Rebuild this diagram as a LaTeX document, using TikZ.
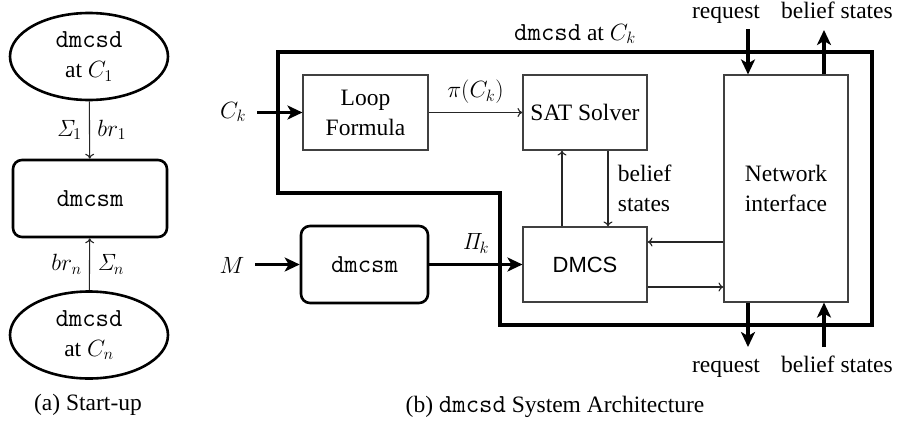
\RequirePackage{fix-cm}
\documentclass[tikz,border=0pt]{standalone}
\usepackage[no-math]{fontspec}
\setmainfont{Liberation Serif}
\setsansfont{Liberation Sans}
\usetikzlibrary{arrows.meta,shapes.geometric}
\newcommand{\mytt}[1]{{\fontsize{26}{30}\selectfont\ttfamily #1}}
\tikzset{
 ell/.style={ellipse, draw, line width=2.6pt, minimum width=158pt, minimum height=87pt, inner sep=0pt, align=center},
 rbox/.style={rectangle, rounded corners=9pt, draw, line width=2.6pt, inner sep=0pt, align=center},
 tbox/.style={rectangle, draw=black!75, line width=1.1pt, inner sep=0pt, align=center},
 thinarr/.style={draw=black!85, line width=1.1pt, -{To[length=5pt,width=9pt]}},
 thickarr/.style={line width=3.5pt, -{Stealth[length=15pt,width=14pt,inset=4pt]}},
 lbl/.style={inner sep=0pt},
 border/.style={line width=3.6pt, line join=miter},
}
\begin{document}
\begin{tikzpicture}[x=1pt,y=-1pt,font=\fontsize{23.5}{30}\selectfont]
\path[use as bounding box] (0,0) rectangle (899,423);
% ---------- (a) ----------
\node[ell] (e1) at (89,56.5) {\mytt{dmcsd}\\at $C_1$};
\node[rbox, minimum width=154pt, minimum height=77pt] (b1) at (90,198.5) {\mytt{dmcsm}};
\node[ell] (e2) at (89,335) {\mytt{dmcsd}\\at $C_n$};
\draw[thinarr] (e1) -- (b1) node[midway,left=4pt] {$\mathit{\Sigma}_1$} node[midway,right=4pt] {$br_1$};
\draw[thinarr] (e2) -- (b1) node[midway,left=4pt] {$br_n$} node[midway,right=4pt] {$\mathit{\Sigma}_n$};
\node[lbl] (capa) at (88,405) {(a) Start-up};
% ---------- (b) ----------
\draw[border] (278,52) -- (872,52) -- (872,325) -- (500,325) -- (500,193) -- (278,193) -- cycle;
\node[lbl] (dlab) at (575,34) {\mytt{dmcsd} at $C_k$};
\node[tbox, minimum width=125pt, minimum height=75pt] (lf) at (365.5,112.5) {Loop\\Formula};
\node[tbox, minimum width=124pt, minimum height=75pt] (sat) at (585,112.5) {SAT Solver};
\node[tbox, minimum width=124pt, minimum height=227pt] (ni) at (786,188.5) {Network\\interface};
\node[tbox, minimum width=124pt, minimum height=75pt, font=\sffamily\fontsize{22}{26}\selectfont] (dmcs) at (585,264.5) {DMCS};
\node[rbox, minimum width=127pt, minimum height=77pt] (dm2) at (364.5,264.5) {\mytt{dmcsm}};
% inputs
\node[lbl] (ck) at (233,112) {$C_k$};
\coordinate (cks) at (257,112.5);
\draw[thickarr] (cks) -- (lf.west);
\node[lbl] (m) at (232,265) {$M$};
\coordinate (ms) at (255,264.5);
\draw[thickarr] (ms) -- (dm2.west);
\draw[thickarr] (dm2.east) -- (dmcs.west) node[midway,above=6pt] {$\mathit{\Pi}_k$};
\draw[thinarr] (lf.east) -- (sat.west) node[midway,above=5pt] {$\pi(C_k)$};
\draw[thinarr] ([xshift=-23pt]dmcs.north) -- ([xshift=-23pt]sat.south);
\draw[thinarr] ([xshift=23pt]sat.south) -- ([xshift=23pt]dmcs.north)
  node[midway,right=6pt,align=left] {belief\\states};
\coordinate (y1) at (0,242);
\coordinate (y2) at (0,287);
\draw[thinarr] (ni.west |- y1) -- (dmcs.east |- y1);
\draw[thinarr] (dmcs.east |- y2) -- (ni.west |- y2);
% network arrows
\coordinate (rq1) at (748,29);
\coordinate (bs1) at (824,30);
\coordinate (rq2) at (748,347);
\coordinate (bs2) at (824,347);
\draw[thickarr] (rq1) -- (rq1 |- ni.north);
\draw[thickarr] (bs1 |- ni.north) -- (bs1);
\draw[thickarr] (rq2 |- ni.south) -- (rq2);
\draw[thickarr] (bs2) -- (bs2 |- ni.south);
\node[lbl, anchor=base] (rqt) at (726,18) {request};
\node[lbl, anchor=base] (bst) at (837,18) {belief states};
\node[lbl, anchor=base] (rqb) at (726,372) {request};
\node[lbl, anchor=base] (bsb) at (837,372) {belief states};
\node[lbl] (capb) at (555,407) {(b) \mytt{dmcsd} System Architecture};
\end{tikzpicture}
\end{document}
